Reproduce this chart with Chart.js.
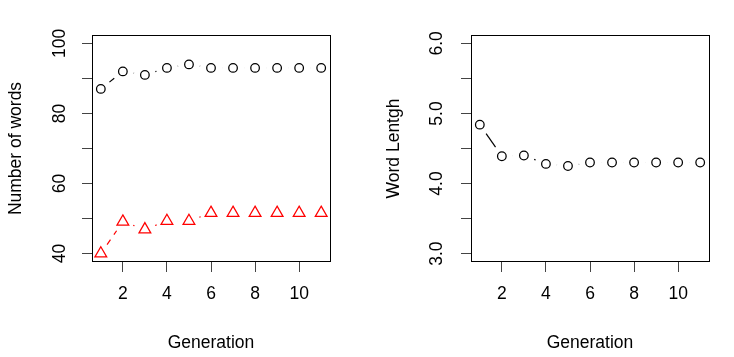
<!DOCTYPE html>
<html><head><meta charset="utf-8">
<script src="https://cdn.jsdelivr.net/npm/chart.js@4/dist/chart.umd.min.js"></script>
<style>
html,body{margin:0;padding:0;background:#fff;}
#wrap{position:relative;width:734px;height:357px;overflow:hidden;background:#fff;}
canvas{position:absolute;top:0;}
</style>
</head><body>
<div id="wrap">
<canvas id="c1" width="367" height="357" style="left:0"></canvas>
<canvas id="c2" width="367" height="357" style="left:367px"></canvas>
</div>
<script>
// ---- data ----
const generations = [1,2,3,4,5,6,7,8,9,10,11];
const wordsBlack = [87,92,91,93,94,93,93,93,93,93,93];
const wordsRed = [40,49.1,46.9,49.3,49.3,51.6,51.6,51.6,51.6,51.6,51.6];
const wordLength = [4.84,4.39,4.40,4.28,4.25,4.30,4.30,4.30,4.30,4.30,4.30];
const xTicks = [2,4,6,8,10];
const xLabels = ['2','4','6','8','10'];
const yTicksLeft = [40,50,60,70,80,90,100];
const yLabelsLeft = ['40','','60','','80','','100'];
const yTicksRight = [3.0,3.5,4.0,4.5,5.0,5.5,6.0];
const yLabelsRight = ['3.0','','4.0','','5.0','','6.0'];
const xTitle = 'Generation';
const yTitleLeft = 'Number of words';
const yTitleRight = 'Word Lentgh';

Chart.defaults.font.family = "'Liberation Sans', Arial, Helvetica, sans-serif";
Chart.defaults.font.size = 17.5;
Chart.defaults.color = '#000';

const toPts = (vals) => generations.map((g, i) => ({x: g, y: vals[i]}));

const boxPlugin = {
  id: 'rbox',
  afterDraw(chart) {
    const a = chart.chartArea, ctx = chart.ctx;
    ctx.save();
    ctx.strokeStyle = '#000'; ctx.lineWidth = 1;
    ctx.strokeRect(Math.round(a.left) + 0.5, Math.round(a.top) + 0.5,
                   Math.round(a.right) - Math.round(a.left), Math.round(a.bottom) - Math.round(a.top) - 1);
    ctx.restore();
  }
};

// R type="b": line segments with a gap around each point
const gapLines = {
  id: 'gapLines',
  afterDatasetsDraw(chart) {
    const ctx = chart.ctx;
    chart.data.datasets.forEach((ds, i) => {
      if (!ds.rLine) return;
      const pts = chart.getDatasetMeta(i).data;
      ctx.save();
      ctx.strokeStyle = ds.borderColor; ctx.lineWidth = 1.2;
      ctx.setLineDash(ds.rDash || []);
      const g = ds.rGap;
      for (let k = 0; k < pts.length - 1; k++) {
        const a = pts[k], b = pts[k + 1];
        const dx = b.x - a.x, dy = b.y - a.y, d = Math.hypot(dx, dy);
        if (d <= 2 * g) continue;
        const ux = dx / d, uy = dy / d;
        ctx.beginPath();
        ctx.moveTo(a.x + ux * g, a.y + uy * g);
        ctx.lineTo(b.x - ux * g, b.y - uy * g);
        ctx.stroke();
      }
      ctx.restore();
    });
  }
};

function makeChart(id, datasets, cfg) {
  return new Chart(document.getElementById(id), {
    type: 'scatter',
    data: {datasets},
    options: {
      responsive: false, animation: false, devicePixelRatio: 1,
      layout: {padding: {left: 0, top: cfg.top, right: cfg.right, bottom: 0}},
      plugins: {legend: {display: false}, tooltip: {enabled: false}},
      scales: {
        x: {
          type: 'linear', position: 'bottom', min: 0.6, max: 11.4,
          afterBuildTicks: s => { s.ticks = xTicks.map(v => ({value: v})); },
          afterFit: s => { s.height = cfg.xHeight; },
          grid: {drawOnChartArea: false, drawTicks: true, tickLength: 10, color: '#444', lineWidth: 1},
          border: {display: false},
          ticks: {padding: 12, color: '#000', minRotation: 0, maxRotation: 0, autoSkip: false,
                  callback: (v) => { const k = xTicks.indexOf(v); return k >= 0 ? xLabels[k] : ''; }},
          title: {display: true, text: xTitle, color: '#000', padding: {top: 0, bottom: 3.5}}
        },
        y: {
          type: 'linear', position: 'left', min: cfg.yMin, max: cfg.yMax,
          afterBuildTicks: s => { s.ticks = cfg.yTicks.map(v => ({value: v})); },
          afterFit: s => { s.width = cfg.yWidth; },
          grid: {drawOnChartArea: false, drawTicks: true, tickLength: 10, color: '#444', lineWidth: 1},
          border: {display: false},
          ticks: {padding: cfg.yPad, color: '#000', minRotation: 90, maxRotation: 90, autoSkip: false,
                  crossAlign: 'center',
                  callback: (v) => { const k = cfg.yTicks.findIndex(t => Math.abs(t - v) < 1e-9); return k >= 0 ? cfg.yLabels[k] : ''; }},
          title: {display: true, text: cfg.yTitle, color: '#000', padding: {top: cfg.titlePad, bottom: 0}}
        }
      }
    },
    plugins: [boxPlugin, gapLines]
  });
}

makeChart('c1', [
  {data: toPts(wordsBlack), showLine: false, pointStyle: 'circle', pointRadius: 4.3, pointHoverRadius: 4.3,
   pointBorderWidth: 1.25, borderColor: '#000', pointBorderColor: '#000', pointBackgroundColor: 'rgba(0,0,0,0)',
   rLine: true, rGap: 11, rDash: []},
  {data: toPts(wordsRed), showLine: false, pointStyle: 'triangle', pointRadius: 6.8, pointHoverRadius: 6.8,
   pointBorderWidth: 1.25, borderColor: '#ff0000', pointBorderColor: '#ff0000', pointBackgroundColor: 'rgba(0,0,0,0)',
   rLine: true, rGap: 11, rDash: [6, 6]}
], {top: 35, right: 37, xHeight: 95, yWidth: 92, yMin: 37.6, yMax: 102.4,
    yTicks: yTicksLeft, yLabels: yLabelsLeft, yTitle: yTitleLeft, yPad: 7.4, titlePad: 5.5});

makeChart('c2', [
  {data: toPts(wordLength), showLine: false, pointStyle: 'circle', pointRadius: 4.3, pointHoverRadius: 4.3,
   pointBorderWidth: 1.25, borderColor: '#000', pointBorderColor: '#000', pointBackgroundColor: 'rgba(0,0,0,0)',
   rLine: true, rGap: 11, rDash: []}
], {top: 35, right: 25, xHeight: 95, yWidth: 104, yMin: 2.88, yMax: 6.12,
    yTicks: yTicksRight, yLabels: yLabelsRight, yTitle: yTitleRight, yPad: 11.8, titlePad: 17});
</script>
</body></html>
